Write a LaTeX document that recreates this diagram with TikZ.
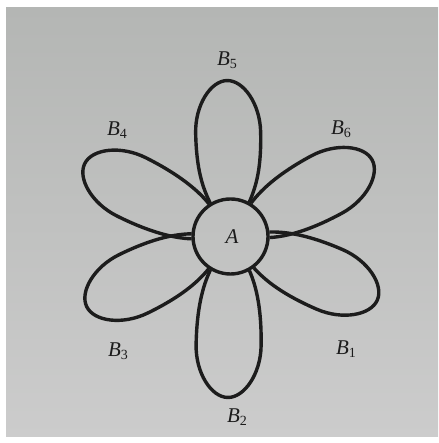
\documentclass[tikz,border=0pt]{standalone}
\usepackage{fontspec}
\setmainfont{Liberation Serif}
\definecolor{ink}{RGB}{28,28,28}
\definecolor{papertop}{RGB}{180,182,180}
\definecolor{paperbot}{RGB}{204,204,204}
\tikzset{
  petalline/.style={draw=ink,line width=3.4pt,line join=round},
  lbl/.style={font=\fontsize{21}{23}\selectfont\itshape,text=ink,inner sep=0pt},
}
\newcommand{\lab}[1]{B\raisebox{-0.32ex}{\fontsize{14}{15}\selectfont\upshape #1}}
\newcommand{\petal}[2]{%
  \begin{scope}[shift={(A.center)},rotate=#1]
    \pgfmathsetmacro{\L}{#2}
    \pgfmathsetmacro{\Wx}{#2-52}
    \pgfmathsetmacro{\Cx}{#2-88}
    \pgfmathsetmacro{\Tx}{#2-24}
    \draw[petalline] (33.8,-19.5) .. controls (50,-27) and (\Cx,-32.5) .. (\Wx,-32.5)
      .. controls (\Tx,-32.5) and (\L,-16.5) .. (\L,0)
      .. controls (\L,16.5) and (\Tx,32.5) .. (\Wx,32.5)
      .. controls (\Cx,32.5) and (50,27) .. (33.8,19.5);
  \end{scope}}
\begin{document}
\begin{tikzpicture}[x=1pt,y=1pt]
  \useasboundingbox (0,0) rectangle (438,443);
  \fill[white] (0,0) rectangle (438,443);
  \shade[top color=papertop,bottom color=paperbot] (6,6) rectangle (438,435);
  \node[circle,draw=ink,line width=3.4pt,minimum size=75pt,inner sep=0pt] (A) at (230.5,206.5) {};
  \node[lbl] (a) at (232,206) {A};
  \petal{91.3}{156}
  \petal{153.4}{163}
  \petal{206}{160}
  \petal{269}{161}
  \petal{336.6}{160}
  \petal{28.4}{161}
  \node[lbl] (b5) at (227,383) {\lab{5}};
  \node[lbl] (b4) at (117,313) {\lab{4}};
  \node[lbl] (b6) at (341,314) {\lab{6}};
  \node[lbl] (b3) at (118,92) {\lab{3}};
  \node[lbl] (b1) at (346,94) {\lab{1}};
  \node[lbl] (b2) at (237,26) {\lab{2}};
\end{tikzpicture}
\end{document}
